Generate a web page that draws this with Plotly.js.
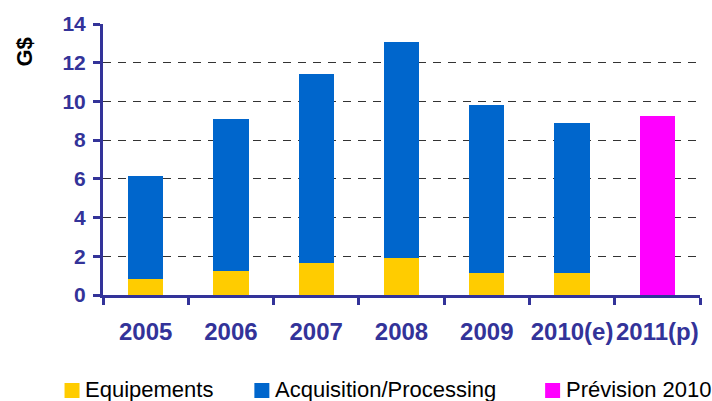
<!DOCTYPE html>
<html>
<head>
<meta charset="utf-8">
<script src="https://cdn.plot.ly/plotly-3.0.1.min.js"></script>
<style>html,body{margin:0;padding:0;background:#fff;}#chart{width:712px;height:401px;}</style>
</head>
<body>
<div id="chart"></div>
<script>
const categories = ["2005", "2006", "2007", "2008", "2009", "2010(e)", "2011(p)"];
const equipements = [0.83, 1.24, 1.66, 1.91, 1.14, 1.14, null];
const acquisition = [5.33, 7.86, 9.77, 11.18, 8.69, 7.76, null];
const prevision = [null, null, null, null, null, null, 9.26];
const seriesNames = ["Equipements", "Acquisition/Processing", "Prévision 2010"];
const seriesColors = ["#FFCC00", "#0066CC", "#FF00FF"];
const yTicks = [0, 2, 4, 6, 8, 10, 12, 14];

const axisColor = "#333399";
const traces = [equipements, acquisition, prevision].map((vals, i) => ({
  type: "bar",
  x: categories,
  y: vals,
  name: seriesNames[i],
  marker: {color: seriesColors[i], line: {width: 0}},
  hoverinfo: "none",
  showlegend: false
}));

// manual legend (squares + labels) in paper coords
const legendX = [64, 254, 545]; // pixel left of squares
const plotL = 102.5, plotR = 700, plotT = 24, plotB = 295;
const pw = plotR - plotL, ph = plotB - plotT;
const px = v => (v - plotL) / pw;
const py = v => (plotB - v) / ph;
const shapes = [];
const annotations = [];
seriesNames.forEach((n, i) => {
  shapes.push({type: "rect", xref: "paper", yref: "paper",
    x0: px(legendX[i]), x1: px(legendX[i] + 15), y0: py(398), y1: py(383),
    fillcolor: seriesColors[i], line: {width: 0}});
  annotations.push({xref: "paper", yref: "paper", x: px(legendX[i] + 19.5), y: py(389),
    xanchor: "left", yanchor: "middle", showarrow: false, text: n, borderpad: 0,
    font: {family: "Liberation Sans, Arial, sans-serif", size: 22, color: "#000"}});
});
annotations.push({xref: "paper", yref: "paper", x: px(23), y: py(52),
  xanchor: "center", yanchor: "middle", showarrow: false, text: "G$", textangle: -90,
  font: {family: "Liberation Sans, Arial, sans-serif", size: 22, color: "#000", weight: "bold"}});

const layout = {
  width: 712, height: 401,
  margin: {l: plotL, r: 712 - plotR, t: plotT, b: 401 - plotB, pad: 0},
  paper_bgcolor: "#fff", plot_bgcolor: "#fff",
  barmode: "stack",
  bargap: 0.587,
  showlegend: false,
  xaxis: {
    type: "category",
    tickson: "boundaries",
    tickangle: 0,
    ticks: "outside", ticklen: 7, tickwidth: 3, tickcolor: axisColor,
    showline: true, linecolor: axisColor, linewidth: 3,
    showgrid: false, zeroline: false,
    tickfont: {family: "Liberation Sans, Arial, sans-serif", size: 24, color: axisColor, weight: "bold"},
    ticklabelstandoff: 13,
    fixedrange: true
  },
  yaxis: {
    range: [0, 14],
    tickvals: yTicks,
    ticks: "outside", ticklen: 7, tickwidth: 3, tickcolor: axisColor,
    showline: true, linecolor: axisColor, linewidth: 3,
    showgrid: true, gridcolor: "#333333", gridwidth: 1, griddash: "8px,7px",
    zeroline: false,
    tickfont: {family: "Liberation Sans, Arial, sans-serif", size: 21, color: axisColor, weight: "bold"},
    ticklabelstandoff: 3,
    fixedrange: true
  },
  shapes: shapes,
  annotations: annotations
};

Plotly.newPlot("chart", traces, layout, {displayModeBar: false, staticPlot: true});
</script>
</body>
</html>
